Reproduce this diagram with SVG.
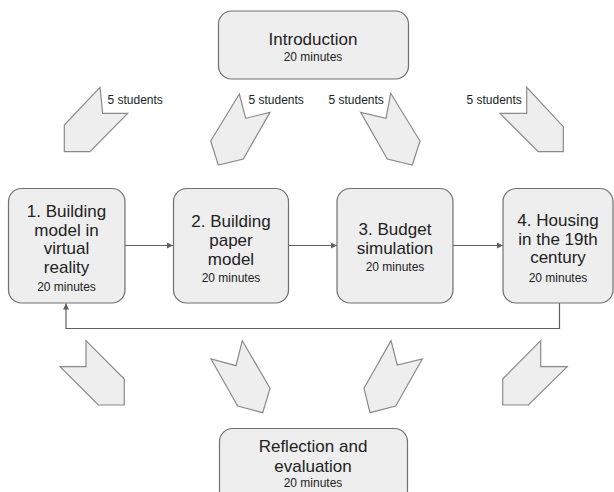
<svg xmlns="http://www.w3.org/2000/svg" width="614" height="492" viewBox="0 0 614 492">
<defs>
<style>
.box{fill:#eeeeee;stroke:#707070;stroke-width:1.2}
.chev{fill:#eeeeee;stroke:#8a8a8a;stroke-width:1.2;stroke-linejoin:miter}
.t{font-family:"Liberation Sans",Arial,sans-serif;font-size:17px;fill:#222;text-anchor:middle}
.s{font-family:"Liberation Sans",Arial,sans-serif;font-size:12px;fill:#222;text-anchor:middle}
.lbl{font-family:"Liberation Sans",Arial,sans-serif;font-size:12px;fill:#222}
.c{fill:none;stroke:#606060;stroke-width:1.2}
</style>
<marker id="ah" markerUnits="userSpaceOnUse" markerWidth="8" markerHeight="8" refX="6" refY="3" orient="auto">
<path d="M0,0 L6,3 L0,6 Z" fill="#606060"/>
</marker>
</defs>
<rect width="614" height="492" fill="#ffffff"/>

<g id="connectors">
<line class="c" x1="125" y1="245.5" x2="173" y2="245.5" marker-end="url(#ah)"/>
<line class="c" x1="288" y1="245.5" x2="337" y2="245.5" marker-end="url(#ah)"/>
<line class="c" x1="453" y1="245.5" x2="503" y2="245.5" marker-end="url(#ah)"/>
<polyline class="c" points="559.5,303 559.5,328.5 66,328.5 66,303.5" marker-end="url(#ah)"/>
</g>

<g id="intro">
<rect class="box" x="218.5" y="11" width="190" height="68" rx="13"/>
<text class="t" x="313" y="45">Introduction</text>
<text class="s" x="313" y="61">20 minutes</text>
</g>

<g id="station1">
<rect class="box" x="8.5" y="188.5" width="116.5" height="114.5" rx="13"/>
<text class="t" x="66.5" y="217">1. Building</text>
<text class="t" x="66.5" y="235.5">model in</text>
<text class="t" x="66.5" y="254">virtual</text>
<text class="t" x="66.5" y="272.5">reality</text>
<text class="s" x="66.5" y="291">20 minutes</text>
</g>

<g id="station2">
<rect class="box" x="173.5" y="188.5" width="115" height="114.5" rx="13"/>
<text class="t" x="231" y="227">2. Building</text>
<text class="t" x="231" y="246">paper</text>
<text class="t" x="231" y="265">model</text>
<text class="s" x="231" y="282">20 minutes</text>
</g>

<g id="station3">
<rect class="box" x="337" y="188.5" width="116" height="114.5" rx="13"/>
<text class="t" x="395" y="235">3. Budget</text>
<text class="t" x="395" y="254">simulation</text>
<text class="s" x="395" y="271">20 minutes</text>
</g>

<g id="station4">
<rect class="box" x="503" y="188.5" width="110" height="114.5" rx="13"/>
<text class="t" x="558" y="226">4. Housing</text>
<text class="t" x="558" y="244.5">in the 19th</text>
<text class="t" x="558" y="263">century</text>
<text class="s" x="558" y="281.5">20 minutes</text>
</g>

<g id="reflection">
<rect class="box" x="219.5" y="428.5" width="188" height="75" rx="13"/>
<text class="t" x="313" y="452">Reflection and</text>
<text class="t" x="313" y="472">evaluation</text>
<text class="s" x="313" y="487">20 minutes</text>
</g>

<g id="chevrons-top">
<g id="chev1"><polygon class="chev" points="100,87.3 102.7,113.3 127.7,113.3 90,151.7 64.3,151.7 64.3,125"/></g>
<g id="chev2"><polygon class="chev" points="239.3,94 245.7,118.3 270,112.3 243.3,159 218.3,165 210.7,141"/></g>
<g id="chev3"><polygon class="chev" points="390.7,93.3 386,118.3 360.7,112.3 387.3,159 412.3,165 420,141"/></g>
<g id="chev4"><polygon class="chev" points="526.7,87.3 526.7,113.3 500,113.3 538.3,151.7 563.3,151.7 563.3,126.7"/></g>
<text class="lbl" x="107.5" y="103.5">5 students</text>
<text class="lbl" x="248.5" y="103.5">5 students</text>
<text class="lbl" x="328.5" y="103.5">5 students</text>
<text class="lbl" x="466.5" y="103.5">5 students</text>
</g>

<g id="chevrons-bottom">
<g id="chev5"><polygon class="chev" points="86,340.7 86,366.7 60,366.7 98.3,405 124.3,405 124.3,379"/></g>
<g id="chev6"><polygon class="chev" points="242.3,340.7 236,365.7 211,359 237.7,406 262.7,412.7 270,388.3"/></g>
<g id="chev7"><polygon class="chev" points="391,340.7 397.3,365 422.3,359 395.7,406 370,412.7 364,388.3"/></g>
<g id="chev8"><polygon class="chev" points="540.7,340.7 540.7,366.7 567.3,366.7 528.3,405 502.7,405 502.7,379"/></g>
</g>
</svg>
